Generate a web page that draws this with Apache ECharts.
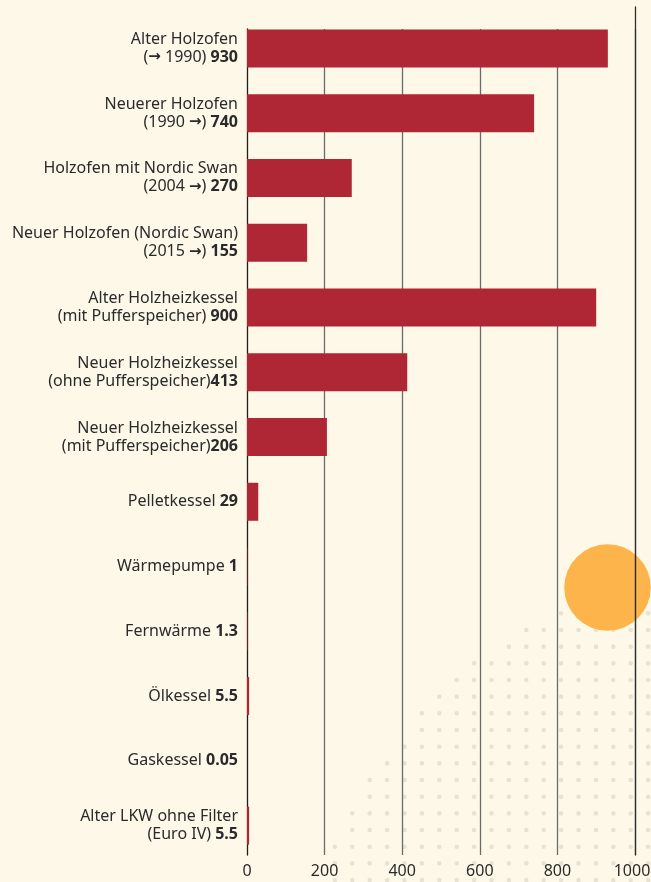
<!DOCTYPE html>
<html>
<head>
<meta charset="utf-8">
<script src="https://cdn.jsdelivr.net/npm/echarts@6/dist/echarts.min.js"></script>
<style>
html,body{margin:0;padding:0;background:#fdf8e8;}
#chart{width:651px;height:882px;}
</style>
</head>
<body>
<div id="chart"></div>
<script>
const labelLine1 = ['Alter Holzofen','Neuerer Holzofen','Holzofen mit Nordic Swan','Neuer Holzofen (Nordic Swan)','Alter Holzheizkessel','Neuer Holzheizkessel','Neuer Holzheizkessel','','','','','','Alter LKW ohne Filter'];
const labelLine2 = ['(\u2192 1990) ','(1990 \u2192) ','(2004 \u2192) ','(2015 \u2192) ','(mit Pufferspeicher) ','(ohne Pufferspeicher)','(mit Pufferspeicher)','Pelletkessel ','W\u00e4rmepumpe ','Fernw\u00e4rme ','\u00d6lkessel ','Gaskessel ','(Euro IV) '];
const valueLabels = ['930','740','270','155','900','413','206','29','1','1.3','5.5','0.05','5.5'];
const values = [930,740,270,155,900,413,206,29,1,1.3,5.5,0.05,5.5];
const xTicks = [0,200,400,600,800,1000];

const categories = labelLine1.map((l,i)=> (l ? l + ' ' : '') + labelLine2[i] + valueLabels[i]);

const FONT = '"Noto Sans", sans-serif';
const TXT = '#2a2a2a';

// decorative dot pattern and orange circle
const deco = [];
const sx = 17.4, sy = 16.67, x0 = 4.3, y0 = 13.2;
for (let r = 0; y0 + r*sy < 890; r++) {
  const y = y0 + r*sy;
  for (let c = 0; x0 + c*sx < 660; c++) {
    const x = x0 + c*sx;
    const d = Math.hypot(x - 760, y - 1024);
    if (d < 461) {
      deco.push({type:'circle', z:0, silent:true, shape:{cx:x, cy:y, r:2.3}, style:{fill:'#e8e2d1'}});
    }
  }
}
deco.push({type:'circle', z:0, silent:true, shape:{cx:607.5, cy:587.5, r:43.3}, style:{fill:'#fdb54b'}});

// split "→" into a separately styled rich token
function richLine(s) {
  return s.split('\u2192').map(p => p ? '{n|' + p + '}' : '').join('{a|\u2192}');
}

const chart = echarts.init(document.getElementById('chart'), null, {renderer:'canvas'});
chart.setOption({
  backgroundColor:'#fdf8e8',
  animation:false,
  graphic: deco,
  grid:[
    {left:247, right:16, top:16, bottom:24, outerBoundsMode:'none', containLabel:false},
    {left:247, right:16, top:29, bottom:27, outerBoundsMode:'none', containLabel:false},
    {left:247, right:16, top:7, bottom:27, outerBoundsMode:'none', containLabel:false}
  ],
  xAxis:[
    {gridIndex:0, type:'value', min:0, max:1000, show:false},
    {gridIndex:1, type:'value', min:0, max:1000, interval:200, z:1,
      axisLine:{show:false}, axisTick:{show:false},
      axisLabel:{show:true, margin:8, fontFamily:FONT, fontSize:16, color:TXT,
        formatter:(v)=> {
          if (xTicks.indexOf(v) < 0) return '';
          return v === xTicks[xTicks.length-1] ? '{r|' + v + '}' : String(v);
        },
        rich:{r:{fontFamily:FONT, fontSize:16, color:TXT, padding:[0,6,0,0]}}},
      splitLine:{show:true, showMinLine:false, lineStyle:{color:'#6b6b6b', width:1.3}}},
    {gridIndex:2, type:'value', min:0, max:1, show:false}
  ],
  yAxis:[
    {gridIndex:0, type:'category', inverse:true, data:categories,
      axisLine:{show:false}, axisTick:{show:false}, splitLine:{show:false},
      axisLabel:{margin:9, align:'right', lineHeight:18,
        formatter:(v, i)=>{
          const l1 = labelLine1[i];
          const second = richLine(labelLine2[i]) + '{b|' + valueLabels[i] + '}';
          return l1 ? '{n|' + l1 + '}\n' + second : second;
        },
        rich:{
          n:{fontFamily:FONT, fontSize:16, color:TXT, lineHeight:18},
          a:{fontFamily:'"DejaVu Sans", sans-serif', fontSize:15, fontWeight:'bold', color:TXT, lineHeight:18},
          b:{fontFamily:FONT, fontSize:16, fontWeight:'bold', color:TXT, lineHeight:18}
        }}},
    {gridIndex:1, type:'value', min:0, max:1, z:1,
      axisLine:{show:true, onZero:false, lineStyle:{color:'#1e1e1e', width:1.3}},
      axisTick:{show:false}, axisLabel:{show:false}, splitLine:{show:false}},
    {gridIndex:2, type:'value', min:0, max:1, position:'right', z:1,
      axisLine:{show:true, onZero:false, lineStyle:{color:'#2e2e2e', width:1.3}},
      axisTick:{show:false}, axisLabel:{show:false}, splitLine:{show:false}}
  ],
  series:[{
    type:'bar', xAxisIndex:0, yAxisIndex:0, data:values, barWidth:38, z:2,
    itemStyle:{color:'#af2735'}
  }]
});
</script>
</body>
</html>
